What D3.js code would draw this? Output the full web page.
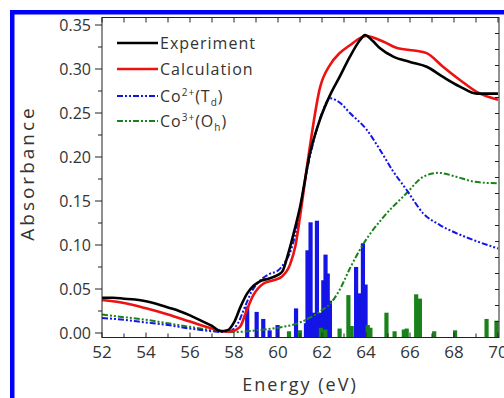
<!DOCTYPE html>
<html lang="en">
	<head>
		<meta charset="utf-8">
		<title>Co XAS spectrum</title>
		<script type="text/javascript" src="https://cdn.jsdelivr.net/npm/d3@7"></script>
		<style type="text/css">
			body { margin: 0; background: #fff; }
			text { font-family: "Open Sans", sans-serif; fill: #333; }
		</style>
	</head>
	<body>
		<script type="text/javascript">

			// Energy (eV), absorbance pairs
			var experiment = [[52,0.040],[52.5,0.040],[53,0.039],[53.5,0.038],[54,0.036],[54.5,0.033],[55,0.029],[55.5,0.025],[56,0.020],[56.5,0.014],[57,0.008],[57.4,0.002],[57.7,0.003],[58,0.012],[58.3,0.030],[58.6,0.045],[58.9,0.054],[59.2,0.059],[59.6,0.062],[60,0.066],[60.2,0.070],[60.45,0.089],[60.75,0.117],[61,0.143],[61.45,0.204],[61.9,0.242],[62.36,0.270],[62.8,0.291],[63.27,0.314],[63.73,0.333],[63.95,0.3386],[64.3,0.332],[64.64,0.3235],[65.24,0.314],[66,0.308],[66.76,0.3026],[67.5,0.291],[68.27,0.280],[69.03,0.272],[70,0.272]];

			var calculation = [[52,0.0375],[53,0.034],[54,0.028],[55,0.021],[56,0.013],[57,0.005],[57.5,0.002],[57.8,0.0015],[58.27,0.007],[58.58,0.026],[58.88,0.043],[59.33,0.056],[59.79,0.060],[60.17,0.064],[60.55,0.078],[60.8,0.100],[61,0.132],[61.45,0.212],[61.9,0.278],[62.36,0.3045],[62.8,0.318],[63.27,0.327],[63.73,0.335],[64,0.3375],[64.8,0.331],[65.45,0.3235],[66.2,0.321],[66.76,0.318],[67.5,0.3026],[68.27,0.2875],[69.03,0.274],[70,0.265]];

			var co2Td = [[52,0.017],[53,0.015],[54,0.012],[55,0.009],[56,0.005],[57,0.002],[57.5,0.001],[57.8,0.002],[58.2,0.012],[58.5,0.030],[58.8,0.047],[59.2,0.060],[59.6,0.067],[60,0.071],[60.3,0.080],[60.6,0.095],[60.9,0.125],[61.2,0.170],[61.6,0.216],[62,0.250],[62.36,0.2667],[62.8,0.262],[63.27,0.250],[64.03,0.231],[64.64,0.208],[65.2,0.185],[65.85,0.1625],[66.6,0.136],[67.36,0.1227],[68.12,0.1133],[68.88,0.1057],[70,0.096]];

			var co3Oh = [[52,0.021],[53,0.018],[54,0.015],[55,0.011],[56,0.007],[57,0.003],[57.6,0.001],[58,0.001],[59,0.003],[60,0.006],[61,0.012],[61.5,0.018],[62,0.026],[62.4,0.034],[62.8,0.049],[63.3,0.075],[63.9,0.102],[64.8,0.132],[65.85,0.159],[66.6,0.1776],[67.3,0.182],[68.1,0.1776],[68.9,0.172],[70,0.170]];

			// stick spectra: energy, height in right-axis units
			var co2Sticks = [[58.6,1.93],[59.03,1.6],[59.33,1.16],[59.62,0.45],[59.98,0.78],[60.82,1.82],[61.27,0.89],[61.34,5.45],[61.48,7.2],[61.6,1.55],[61.77,7.3],[61.94,1.55],[62.06,3.58],[62.16,5.18],[62.26,4.0],[62.36,2.3],[63.55,4.41],[63.7,2.76],[63.86,5.89],[63.98,3.31]];

			var co3Sticks = [[60.5,0.39],[61.0,0.45],[61.95,0.61],[62.15,0.5],[62.8,0.56],[63.2,2.65],[63.35,0.72],[64.08,0.78],[64.2,0.61],[64.93,1.55],[65.3,0.39],[65.72,0.5],[65.85,0.56],[66.28,2.7],[66.45,2.43],[67.1,0.39],[68.05,0.45],[69.48,1.16],[69.93,1.05]];

			var xTicks = [52, 54, 56, 58, 60, 62, 64, 66, 68, 70];
			var yTicks = [0, 0.05, 0.10, 0.15, 0.20, 0.25, 0.30, 0.35];

			var w = 504;
			var h = 398;
			var pLeft = 102, pRight = 499, pTop = 17.5, pBottom = 337.5;

			var svg = d3.select("body")
						.append("svg")
						.attr("width", w)
						.attr("height", h);

			//blue frame on the left and top
			svg.append("rect").attr("x", 10).attr("y", 10).attr("width", 4.5).attr("height", h - 10).style("fill", "#0000ff");
			svg.append("rect").attr("x", 10).attr("y", 10).attr("width", w - 10).attr("height", 4.5).style("fill", "#0000ff");

			var x = d3.scaleLinear().domain([52, 70]).range([102, 498]);
			var y = d3.scaleLinear().domain([0, 0.35]).range([333, 25]);
			var yStick = d3.scaleLinear().domain([0, 20]).range([pBottom, pTop]);

			var blue = "#1414e6", green = "#1a821a";
			var dashes = "6,2,2,2,2,2";

			//stick bars
			var barW = x(52.19) - x(52);
			function sticks(data, color) {
				svg.append("g").selectAll("rect")
				   .data(data)
				   .enter()
				   .append("rect")
				   .attr("x", function(d) { return x(d[0]) - barW / 2; })
				   .attr("y", function(d) { return yStick(d[1]); })
				   .attr("width", barW)
				   .attr("height", function(d) { return pBottom - yStick(d[1]); })
				   .style("fill", color);
			}
			sticks(co2Sticks, blue);
			sticks(co3Sticks, green);

			var line = d3.line()
						 .x(function(d) { return x(d[0]); })
						 .y(function(d) { return y(d[1]); })
						 .curve(d3.curveMonotoneX);

			var series = [
				{ data: co3Oh, color: green, width: 2, dash: dashes },
				{ data: co2Td, color: blue, width: 2, dash: dashes },
				{ data: calculation, color: "#ee1111", width: 2.6, dash: null },
				{ data: experiment, color: "#000", width: 2.6, dash: null }
			];

			series.forEach(function(s) {
				svg.append("path")
				   .attr("d", line(s.data))
				   .style("fill", "none")
				   .style("stroke", s.color)
				   .style("stroke-width", s.width)
				   .style("stroke-dasharray", s.dash);
			});

			//frame
			svg.append("rect")
			   .attr("x", pLeft).attr("y", pTop)
			   .attr("width", pRight - pLeft).attr("height", pBottom - pTop)
			   .style("fill", "none").style("stroke", "#222").style("stroke-width", 1);

			//bottom and top ticks (inward) and labels
			var minorX = d3.range(52, 71, 1);
			svg.append("g").selectAll("line")
			   .data(minorX).enter().append("line")
			   .attr("x1", function(d) { return x(d); }).attr("x2", function(d) { return x(d); })
			   .attr("y1", pBottom).attr("y2", function(d) { return pBottom - (d % 2 === 0 ? 5 : 4); })
			   .style("stroke", "#222");
			svg.append("g").selectAll("line")
			   .data(minorX).enter().append("line")
			   .attr("x1", function(d) { return x(d); }).attr("x2", function(d) { return x(d); })
			   .attr("y1", pTop).attr("y2", pTop + 5)
			   .style("stroke", "#222");
			svg.append("g").selectAll("text")
			   .data(xTicks).enter().append("text")
			   .attr("x", function(d) { return x(d); })
			   .attr("y", 358)
			   .attr("text-anchor", "middle")
			   .style("font-size", "17px")
			   .text(function(d) { return d; });

			//left ticks (outward) and labels
			var minorY = d3.range(0, 0.36, 0.025);
			svg.append("g").selectAll("line")
			   .data(minorY).enter().append("line")
			   .attr("x1", pLeft).attr("x2", function(d, i) { return pLeft - (i % 2 === 0 ? 7 : 4); })
			   .attr("y1", function(d) { return y(d); }).attr("y2", function(d) { return y(d); })
			   .style("stroke", "#222");
			svg.append("g").selectAll("text")
			   .data(yTicks).enter().append("text")
			   .attr("x", 91)
			   .attr("y", function(d) { return y(d) + 5.5; })
			   .attr("text-anchor", "end")
			   .style("font-size", "16px")
			   .text(function(d) { return d3.format(".2f")(d); });

			//right ticks (inward) for the stick scale
			svg.append("g").selectAll("line")
			   .data(d3.range(1, 20)).enter().append("line")
			   .attr("x1", pRight).attr("x2", pRight - 4)
			   .attr("y1", function(d) { return yStick(d); }).attr("y2", function(d) { return yStick(d); })
			   .style("stroke", "#222");

			//axis titles
			svg.append("text")
			   .attr("x", 300).attr("y", 391)
			   .attr("text-anchor", "middle")
			   .style("font-size", "18px")
			   .style("letter-spacing", "2px")
			   .text("Energy (eV)");
			svg.append("text")
			   .attr("transform", "translate(34,173) rotate(-90)")
			   .attr("text-anchor", "middle")
			   .style("font-size", "19px")
			   .style("letter-spacing", "3px")
			   .text("Absorbance");

			//legend
			var legend = [
				{ color: "#000", dash: null, width: 2.6, label: ["Experiment"] },
				{ color: "#ee1111", dash: null, width: 2.6, label: ["Calculation"] },
				{ color: blue, dash: dashes, width: 2, label: ["Co", "2+", "(T", "d", ")"] },
				{ color: green, dash: dashes, width: 2, label: ["Co", "3+", "(O", "h", ")"] }
			];
			var rows = [43, 69, 96, 121];
			legend.forEach(function(l, i) {
				svg.append("line")
				   .attr("x1", 117).attr("x2", 158)
				   .attr("y1", rows[i]).attr("y2", rows[i])
				   .style("stroke", l.color)
				   .style("stroke-width", l.width)
				   .style("stroke-dasharray", l.dash);
				var t = svg.append("text")
						   .attr("x", 160).attr("y", rows[i] + 6)
						   .style("font-size", "16px")
						   .style("letter-spacing", "1px");
				l.label.forEach(function(part, j) {
					var ts = t.append("tspan").text(part);
					if (l.label.length > 1 && j === 1) ts.attr("dy", -6).style("font-size", "10px");
					if (j === 2) ts.attr("dy", 6);
					if (j === 3) ts.attr("dy", 4).style("font-size", "10px");
					if (j === 4) ts.attr("dy", -4);
				});
			});

		</script>
	</body>
</html>
